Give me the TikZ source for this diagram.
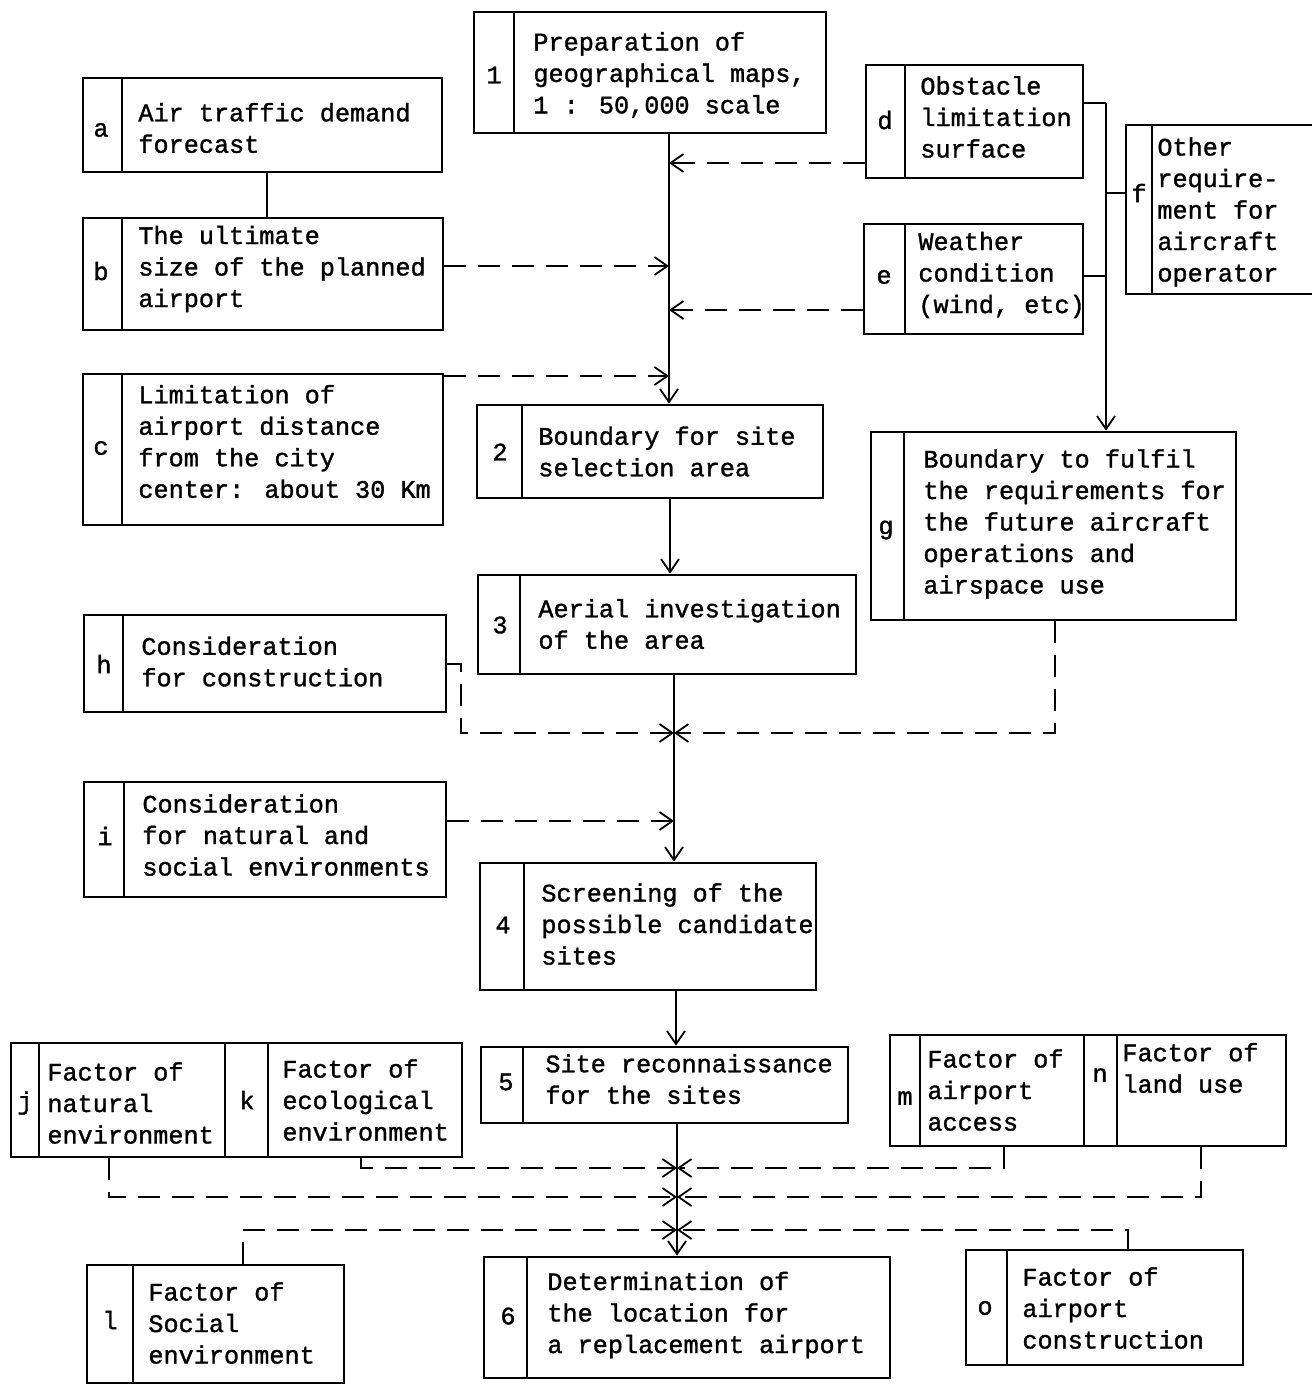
\documentclass[tikz,border=0pt]{standalone}
\usepackage{fontspec}
\setmainfont{Liberation Mono}[UprightFeatures={FakeBold=1.3}]
\usetikzlibrary{arrows.meta,fit}
\newcommand\ibox[6]{%
  \node[boxs,fit={(#2,#3) (#5,#6)}] (#1) {};
  \draw[line width=1.4pt] (#4,#3) -- (#4,#6);}
\begin{document}
\begin{tikzpicture}[x=0.5pt,y=-0.5pt,
  boxs/.style={draw,line width=1.4pt,inner sep=0pt},
  conn/.style={line width=0.9pt},
  dconn/.style={line width=1pt,dash pattern=on 11pt off 6pt},
  arr/.style={-{Straight Barb[length=6.5pt,width=9pt,line width=0.9pt]}},
  txt/.style={anchor=west,align=left,inner sep=0pt,font=\fontsize{12.6}{15.75}\selectfont},
  lab/.style={inner sep=0pt,font=\fontsize{12.6}{15.75}\selectfont}]
\useasboundingbox (0,0) rectangle (1311,1385);

% boxes
\ibox{n1}{474}{12}{514}{826}{133}
\node[lab] (n1l) at (494,75) {1};
\node[txt] (n1t) at (533,75) {Preparation of\\geographical maps,\\1 : 50,000 scale};

\ibox{a}{83}{78}{122}{442}{172}
\node[lab] (al) at (101,130) {a};
\node[txt] (at) at (138,128) {Air traffic demand\\forecast};

\ibox{b}{83}{218}{122}{443}{330}
\node[lab] (bl) at (101,271) {b};
\node[txt] (bt) at (138,269) {The ultimate\\size of the planned\\airport};

\ibox{c}{83}{374}{122}{443}{525}
\node[lab] (cl) at (101,448) {c};
\node[txt] (ct) at (138,441.5) {Limitation of\\airport distance\\from the city\\center: about 30 Km};

\ibox{d}{866}{65}{905}{1083}{178}
\node[lab] (dl) at (885,120) {d};
\node[txt] (dt) at (920,117) {Obstacle\\limitation\\surface};

\ibox{e}{864}{224}{905}{1083}{334}
\node[lab] (el) at (884,277) {e};
\node[txt] (et) at (918,275) {Weather\\condition\\(wind, etc)};

\ibox{f}{1126}{125}{1152}{1330}{294}
\node[lab] (fl) at (1139,193) {f};
\node[txt] (ft) at (1157,212) {Other\\require-\\ment for\\aircraft\\operator};

\ibox{n2}{477}{405}{522}{823}{498}
\node[lab] (n2l) at (500,452) {2};
\node[txt] (n2t) at (538,451.5) {Boundary for site\\selection area};

\ibox{g}{871}{432}{904}{1236}{620}
\node[lab] (gl) at (886,530) {g};
\node[txt] (gt) at (923,524) {Boundary to fulfil\\the requirements for\\the future aircraft\\operations and\\airspace use};

\ibox{n3}{478}{575}{520}{856}{674}
\node[lab] (n3l) at (500,625) {3};
\node[txt] (n3t) at (538,624) {Aerial investigation\\of the area};

\ibox{h}{84}{615}{123}{446}{712}
\node[lab] (hl) at (104,664) {h};
\node[txt] (ht) at (141,661.5) {Consideration\\for construction};

\ibox{i}{84}{782}{124}{446}{897}
\node[lab] (il) at (105,836) {i};
\node[txt] (it) at (142,835) {Consideration\\for natural and\\social environments};

\ibox{n4}{480}{863}{524}{816}{990}
\node[lab] (n4l) at (503,925) {4};
\node[txt] (n4t) at (541,924) {Screening of the\\possible candidate\\sites};

\ibox{n5}{481}{1047}{523}{848}{1123}
\node[lab] (n5l) at (506,1082) {5};
\node[txt] (n5t) at (545,1079) {Site reconnaissance\\for the sites};

\ibox{j}{11}{1043}{39}{225}{1157}
\node[lab] (jl) at (25,1103) {j};
\node[txt] (jt) at (47,1103) {Factor of\\natural\\environment};

\ibox{k}{225}{1043}{268}{462}{1157}
\node[lab] (kl) at (247,1100) {k};
\node[txt] (kt) at (282,1100) {Factor of\\ecological\\environment};

\ibox{m}{890}{1035}{920}{1084}{1146}
\node[lab] (ml) at (905,1098) {m};
\node[txt] (mt) at (927,1090) {Factor of\\airport\\access};

\ibox{n}{1084}{1035}{1117}{1286}{1146}
\node[lab] (nl) at (1100,1075) {n};
\node[txt] (nt) at (1122,1068) {Factor of\\land use};

\ibox{l}{87}{1265}{133}{344}{1383}
\node[lab] (ll) at (110,1320) {l};
\node[txt] (lt) at (148,1323) {Factor of\\Social\\environment};

\ibox{n6}{484}{1257}{527}{890}{1378}
\node[lab] (n6l) at (508,1316) {6};
\node[txt] (n6t) at (547,1315) {Determination of\\the location for\\a replacement airport};

\ibox{o}{966}{1250}{1007}{1243}{1365}
\node[lab] (ol) at (985,1308) {o};
\node[txt] (ot) at (1022,1308) {Factor of\\airport\\construction};

% junction coordinates
\coordinate (jd) at (669,163);
\coordinate (jb) at (669,266);
\coordinate (je) at (669,310);
\coordinate (jc) at (669,376);
\coordinate (s23) at (670,540);
\coordinate (jgh) at (674,733);
\coordinate (ji) at (674,821);
\coordinate (s45) at (676,1020);
\coordinate (jkm) at (677,1168);
\coordinate (jjn) at (677,1197);
\coordinate (jlo) at (677,1230);
\coordinate (fd) at (1106,103);
\coordinate (fe) at (1106,276);
\coordinate (ff) at (1106,193);
\coordinate (hk) at (461,733);
\coordinate (gk) at (1055,733);
\coordinate (kk) at (361,1168);
\coordinate (jj) at (109,1197);
\coordinate (mm) at (1004,1168);
\coordinate (nn) at (1201,1197);
\coordinate (oo) at (1128,1230);
\coordinate (lk) at (243,1230);

% solid connectors
\draw[conn] (a.south -| 267,0) -- (b.north -| 267,0);
\draw[conn,arr] (n1.south -| jd) -- (n2.north -| jd);
\draw[conn,arr] (n2.south -| s23) -- (n3.north -| s23);
\draw[conn,arr] (n3.south -| jgh) -- (n4.north -| jgh);
\draw[conn,arr] (n4.south -| s45) -- (n5.north -| s45);
\draw[conn,arr] (n5.south -| jkm) -- (n6.north -| jkm);
\draw[conn] (d.east |- fd) -- (fd);
\draw[conn] (e.east |- fe) -- (fe);
\draw[conn] (f.west |- ff) -- (ff);
\draw[conn,arr] (fd) -- (g.north -| fd);

% dashed connectors
\draw[dconn,arr] (b.east |- jb) -- (jb);
\draw[dconn,arr] (c.east |- jc) -- (jc);
\draw[dconn,arr] (d.west |- jd) -- (jd);
\draw[dconn,arr] (e.west |- je) -- (je);
\draw[dconn,arr] (h.east) -| (hk) -- (jgh);
\draw[dconn,arr] (g.south -| gk) -- (gk) -- (jgh);
\draw[dconn,arr] (i.east |- ji) -- (ji);
\draw[dconn,arr] (k.south -| kk) -- (kk) -- (jkm);
\draw[dconn,arr] (m.south -| mm) -- (mm) -- (jkm);
\draw[dconn,arr] (j.south -| jj) -- (jj) -- (jjn);
\draw[dconn,arr] (n.south -| nn) -- (nn) -- (jjn);
\draw[dconn,arr] (l.north -| lk) -- (lk) -- (jlo);
\draw[dconn,arr] (o.north -| oo) -- (oo) -- (jlo);
\end{tikzpicture}
\end{document}
